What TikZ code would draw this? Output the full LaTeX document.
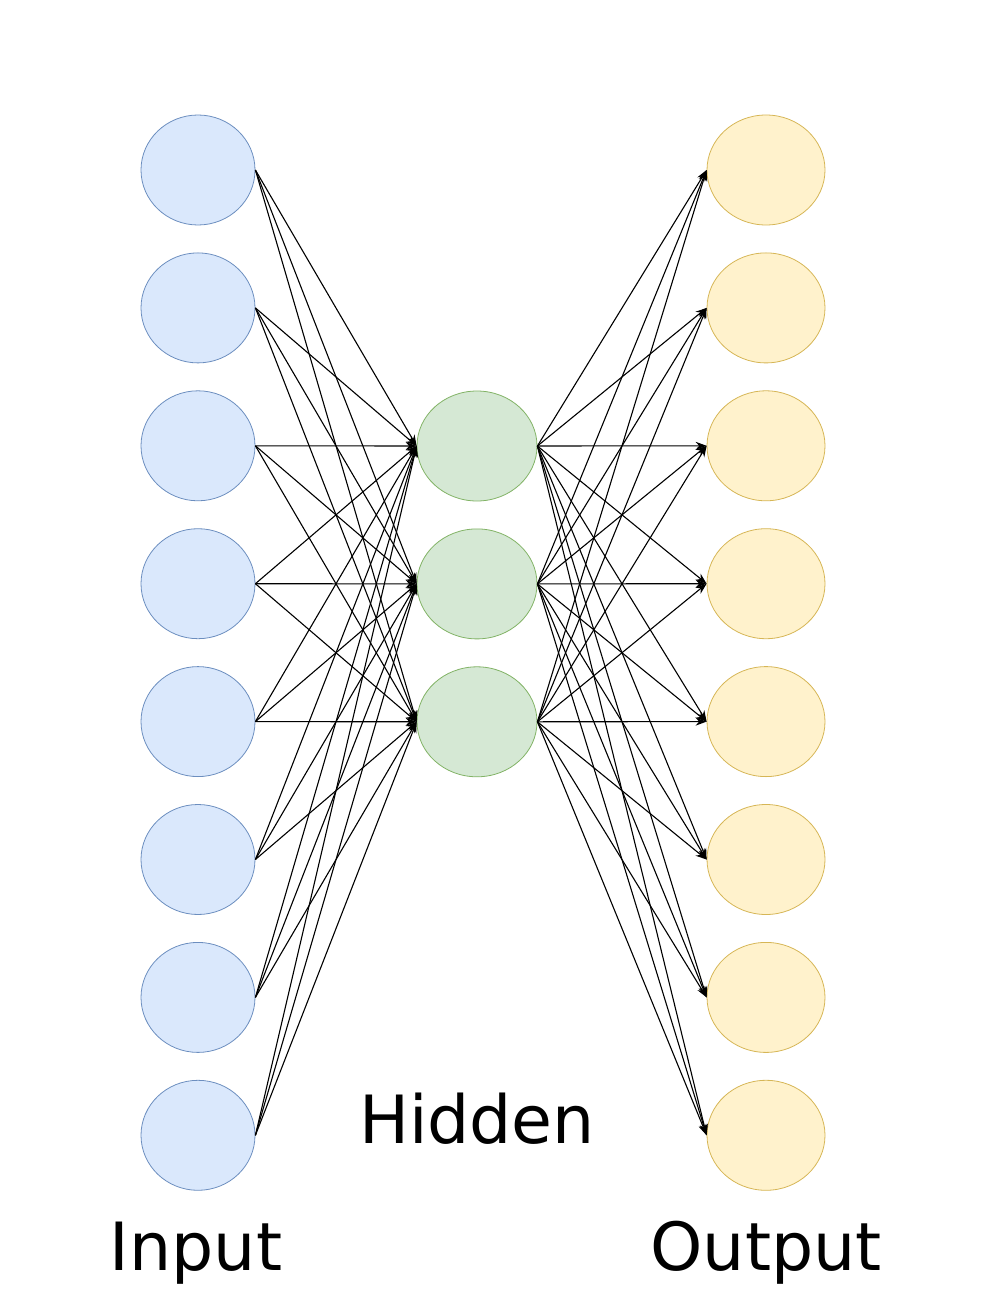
\documentclass[tikz,border=0pt]{standalone}
\usepackage{fontspec}
\setmainfont{DejaVu Sans}
\usepackage{xcolor}
\definecolor{inputfill}{HTML}{DAE8FC}
\definecolor{inputline}{HTML}{6C8EBF}
\definecolor{hiddenfill}{HTML}{D5E8D4}
\definecolor{hiddenline}{HTML}{82B366}
\definecolor{outputfill}{HTML}{FFF2CC}
\definecolor{outputline}{HTML}{D6B656}
\usetikzlibrary{shapes.geometric, arrows.meta, positioning}

\begin{document}
\begin{tikzpicture}[
    x=1pt, y=-1pt,
    neuron/.style={ellipse, minimum height=110pt, inner sep=0pt, line width=0.8pt},
    inneuron/.style={neuron, draw=inputline, fill=inputfill, minimum width=114pt},
    hidneuron/.style={neuron, draw=hiddenline, fill=hiddenfill, minimum width=120pt},
    outneuron/.style={neuron, draw=outputline, fill=outputfill, minimum width=118pt},
    link/.style={-{Stealth[length=11pt, width=8pt]}, line width=1.1pt, black},
    layertext/.style={anchor=base, font=\fontsize{66.5}{72}\selectfont}
]
    \useasboundingbox (0,0) rectangle (1005,1305);

    % layers
    \foreach \i in {1,...,8} {
        \node[inneuron] (in\i) at (198, {170+(\i-1)*137.9}) {};
        \node[outneuron] (out\i) at (766, {170+(\i-1)*137.9}) {};
    }
    \foreach \j in {1,2,3}
        \node[hidneuron] (hid\j) at (477, {446+(\j-1)*137.9}) {};

    % connections
    \foreach \i in {1,...,8}
        \foreach \j in {1,2,3} {
            \draw[link] (in\i.east) -- (hid\j.west);
            \draw[link] (hid\j.east) -- (out\i.west);
        }

    \node[layertext] (inlabel) at (196, 1270) {Input};
    \node[layertext] (hidlabel) at (477, 1143) {Hidden};
    \node[layertext] (outlabel) at (766, 1270) {Output};
\end{tikzpicture}
\end{document}
